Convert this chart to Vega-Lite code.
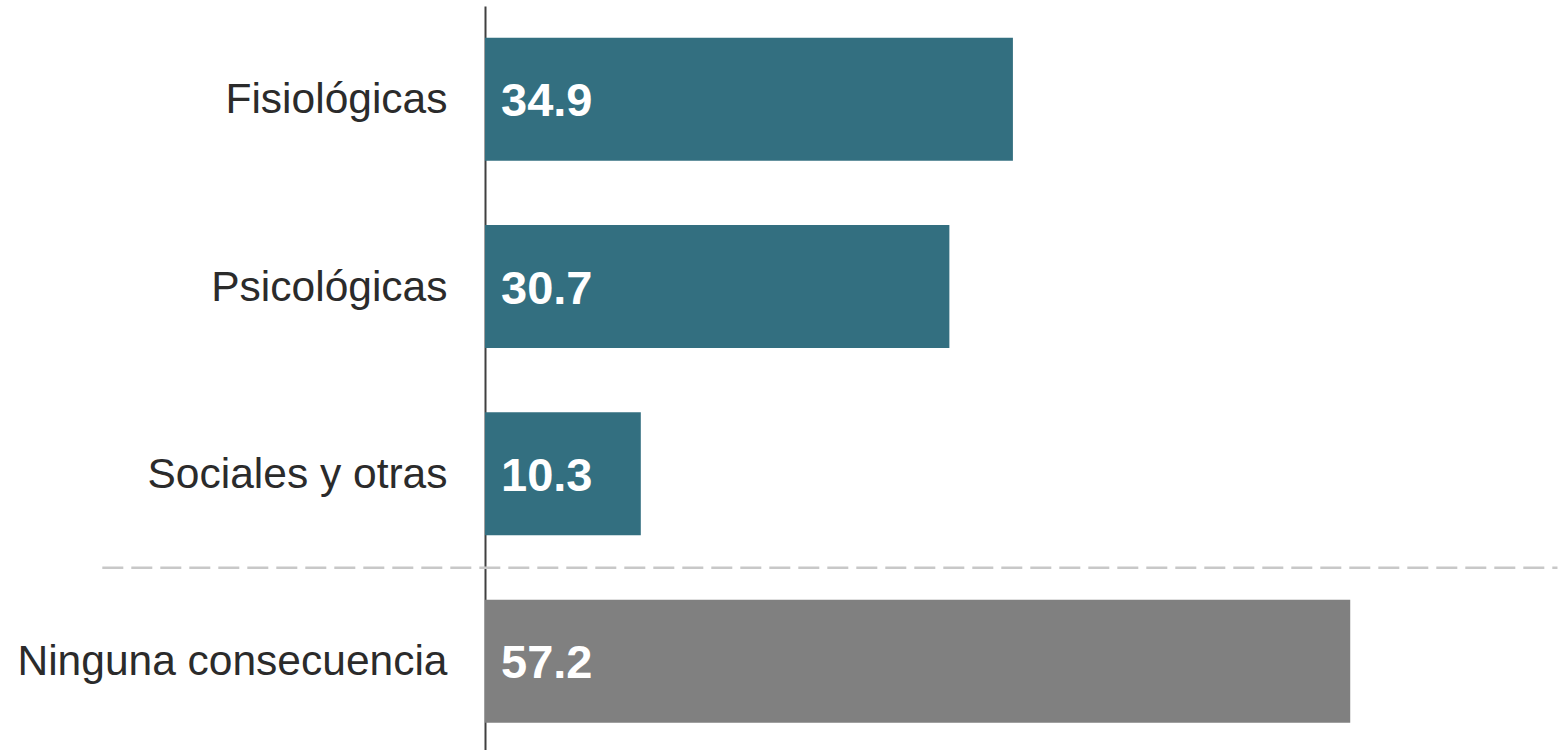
{
  "$schema": "https://vega.github.io/schema/vega-lite/v6.json",
  "width": 1077,
  "height": 744,
  "autosize": {"type": "none"},
  "padding": {"left": 485, "top": 6, "right": 0, "bottom": 0},
  "background": "white",
  "config": {"view": {"stroke": null}, "font": "Liberation Sans"},
  "datasets": {
    "bars": [
      {"cat": "Fisiológicas", "value": 34.9, "group": "consecuencia"},
      {"cat": "Psicológicas", "value": 30.7, "group": "consecuencia"},
      {"cat": "Sociales y otras", "value": 10.3, "group": "consecuencia"},
      {"cat": "Ninguna consecuencia", "value": 57.2, "group": "ninguna"}
    ],
    "sep": [
      {"cat": "Ninguna consecuencia", "x0": -25.3, "x1": 70.9}
    ]
  },
  "encoding": {
    "y": {
      "field": "cat",
      "type": "nominal",
      "sort": ["Fisiológicas", "Psicológicas", "Sociales y otras", "Ninguna consecuencia"],
      "scale": {"paddingInner": 0.3434, "paddingOuter": 0.1575, "align": 0.537, "round": false},
      "axis": {
        "title": null,
        "ticks": false,
        "labelFontSize": 42.5,
        "labelFont": "Liberation Sans",
        "labelColor": "#2b2b2b",
        "labelPadding": 38,
        "labelOffset": 1,
        "domainColor": "#404040",
        "domainWidth": 2,
        "labelLimit": 600
      }
    }
  },
  "layer": [
    {
      "data": {"name": "bars"},
      "mark": {"type": "bar"},
      "encoding": {
        "x": {"field": "value", "type": "quantitative", "scale": {"domain": [0, 71.2], "nice": false}, "axis": null},
        "color": {"field": "group", "type": "nominal", "scale": {"domain": ["consecuencia", "ninguna"], "range": ["#336f80", "#808080"]}, "legend": null}
      }
    },
    {
      "data": {"name": "bars"},
      "mark": {"type": "text", "align": "left", "baseline": "middle", "dx": 16, "dy": 3, "fontSize": 47, "fontWeight": "bold", "font": "Liberation Sans", "color": "white"},
      "encoding": {
        "x": {"datum": 0, "type": "quantitative"},
        "text": {"field": "value", "type": "quantitative", "format": ".1f"}
      }
    },
    {
      "data": {"name": "sep"},
      "mark": {"type": "rule", "strokeDash": [21, 8], "strokeWidth": 2.5, "color": "#c8c8c8", "yOffset": -32, "clip": false},
      "encoding": {
        "y": {"field": "cat", "type": "nominal", "bandPosition": 0},
        "x": {"field": "x0", "type": "quantitative"},
        "x2": {"field": "x1"}
      }
    }
  ]
}
